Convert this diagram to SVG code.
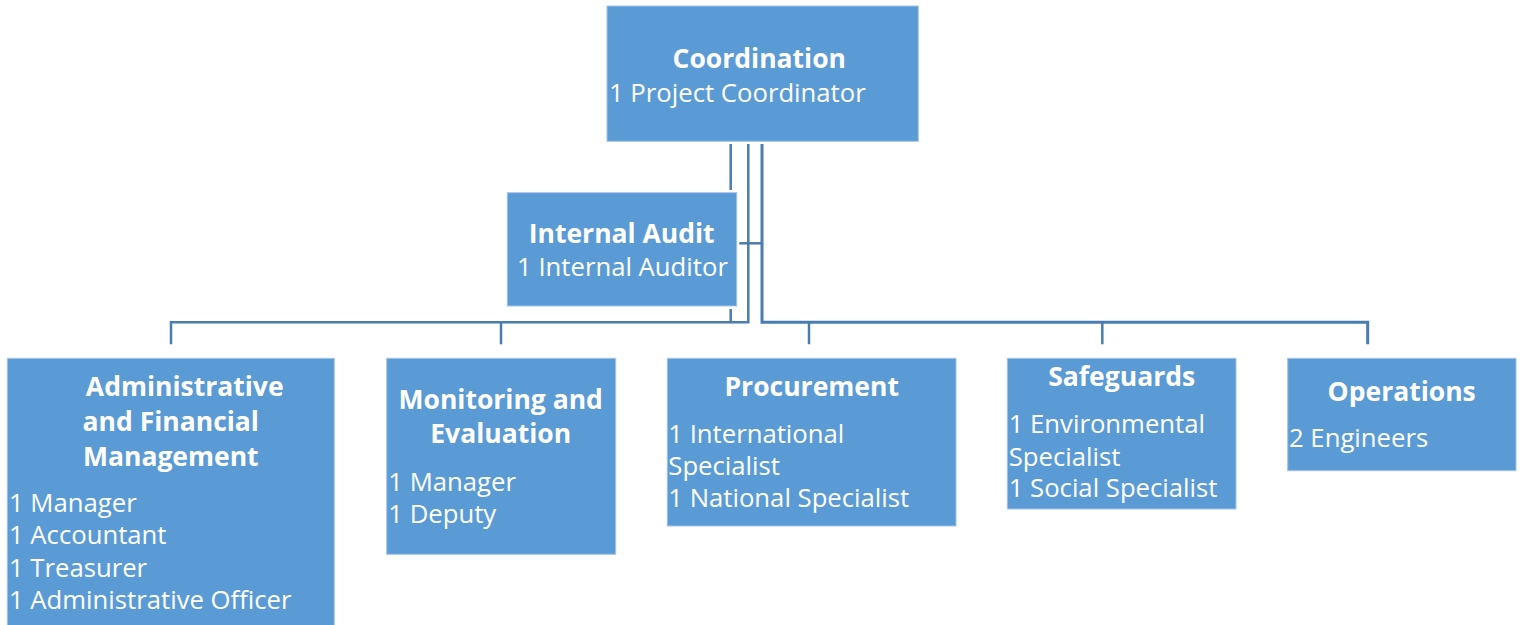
<svg xmlns="http://www.w3.org/2000/svg" width="1524" height="625" viewBox="0 0 1524 625">
<style>
.box{fill:#5B9BD5;stroke:#A3C4E8;stroke-width:1}
.t{font-family:"Open Sans","Liberation Sans",sans-serif;font-weight:bold;font-size:26.5px;fill:#FFFFFF;text-anchor:middle}
.s{font-family:"Open Sans","Liberation Sans",sans-serif;font-size:25.7px;fill:#FFFFFF}
.c{text-anchor:middle}
.ln{fill:none;stroke:#4A7DAF;stroke-width:2.5}
</style>
<rect width="1524" height="625" fill="#FFFFFF"/>
<g id="connectors">
<path class="ln" d="M730.7,144 V190 M730.7,309 V322.3"/>
<path class="ln" d="M748.3,144 V322.3 H171 V344.3"/>
<path class="ln" d="M501,322.3 V344.3"/>
<path class="ln" d="M762,144 V322.3 H1367.7 V344.3" style="stroke-width:3"/>
<path class="ln" d="M809,322.3 V344.3 M1102.3,322.3 V344.3"/>
<path class="ln" d="M739.3,243.3 H762"/>
</g>
<g id="coordination">
<rect class="box" x="607" y="6" width="311.3" height="135.3"/>
<text class="t" x="759.3" y="68.3">Coordination</text>
<text class="s" x="609" y="102">1 Project Coordinator</text>
</g>
<g id="internal-audit">
<rect class="box" x="507.3" y="192.7" width="229.4" height="113.3"/>
<text class="t" x="621.7" y="242.7">Internal Audit</text>
<text class="s c" x="622.5" y="276">1 Internal Auditor</text>
</g>
<g id="admin-finance">
<rect class="box" x="7.3" y="358.3" width="327" height="280"/>
<text class="t" x="184.7" y="395.7">Administrative</text>
<text class="t" x="170.8" y="430.7">and Financial</text>
<text class="t" x="170.8" y="465.7">Management</text>
<text class="s" x="9" y="512.3">1 Manager</text>
<text class="s" x="9" y="544.3">1 Accountant</text>
<text class="s" x="9" y="576.7">1 Treasurer</text>
<text class="s" x="9" y="609.3">1 Administrative Officer</text>
</g>
<g id="monitoring-evaluation">
<rect class="box" x="386.7" y="358.3" width="229" height="196"/>
<text class="t" x="500.7" y="409">Monitoring and</text>
<text class="t" x="500.7" y="443.3">Evaluation</text>
<text class="s" x="388.3" y="490.8">1 Manager</text>
<text class="s" x="388.3" y="523.2">1 Deputy</text>
</g>
<g id="procurement">
<rect class="box" x="667.3" y="358.3" width="288.7" height="167.7"/>
<text class="t" x="811.7" y="396">Procurement</text>
<text class="s" x="668.3" y="442.7">1 International</text>
<text class="s" x="668.3" y="474.7">Specialist</text>
<text class="s" x="668.3" y="506.7">1 National Specialist</text>
</g>
<g id="safeguards">
<rect class="box" x="1007.3" y="358.3" width="228.7" height="150.7"/>
<text class="t" x="1121.7" y="386">Safeguards</text>
<text class="s" x="1008.7" y="433.3">1 Environmental</text>
<text class="s" x="1008.7" y="465.7">Specialist</text>
<text class="s" x="1008.7" y="497.3">1 Social Specialist</text>
</g>
<g id="operations">
<rect class="box" x="1287.7" y="358.3" width="228.3" height="112.4"/>
<text class="t" x="1401.7" y="400.7">Operations</text>
<text class="s" x="1289" y="446.7">2 Engineers</text>
</g>
</svg>
